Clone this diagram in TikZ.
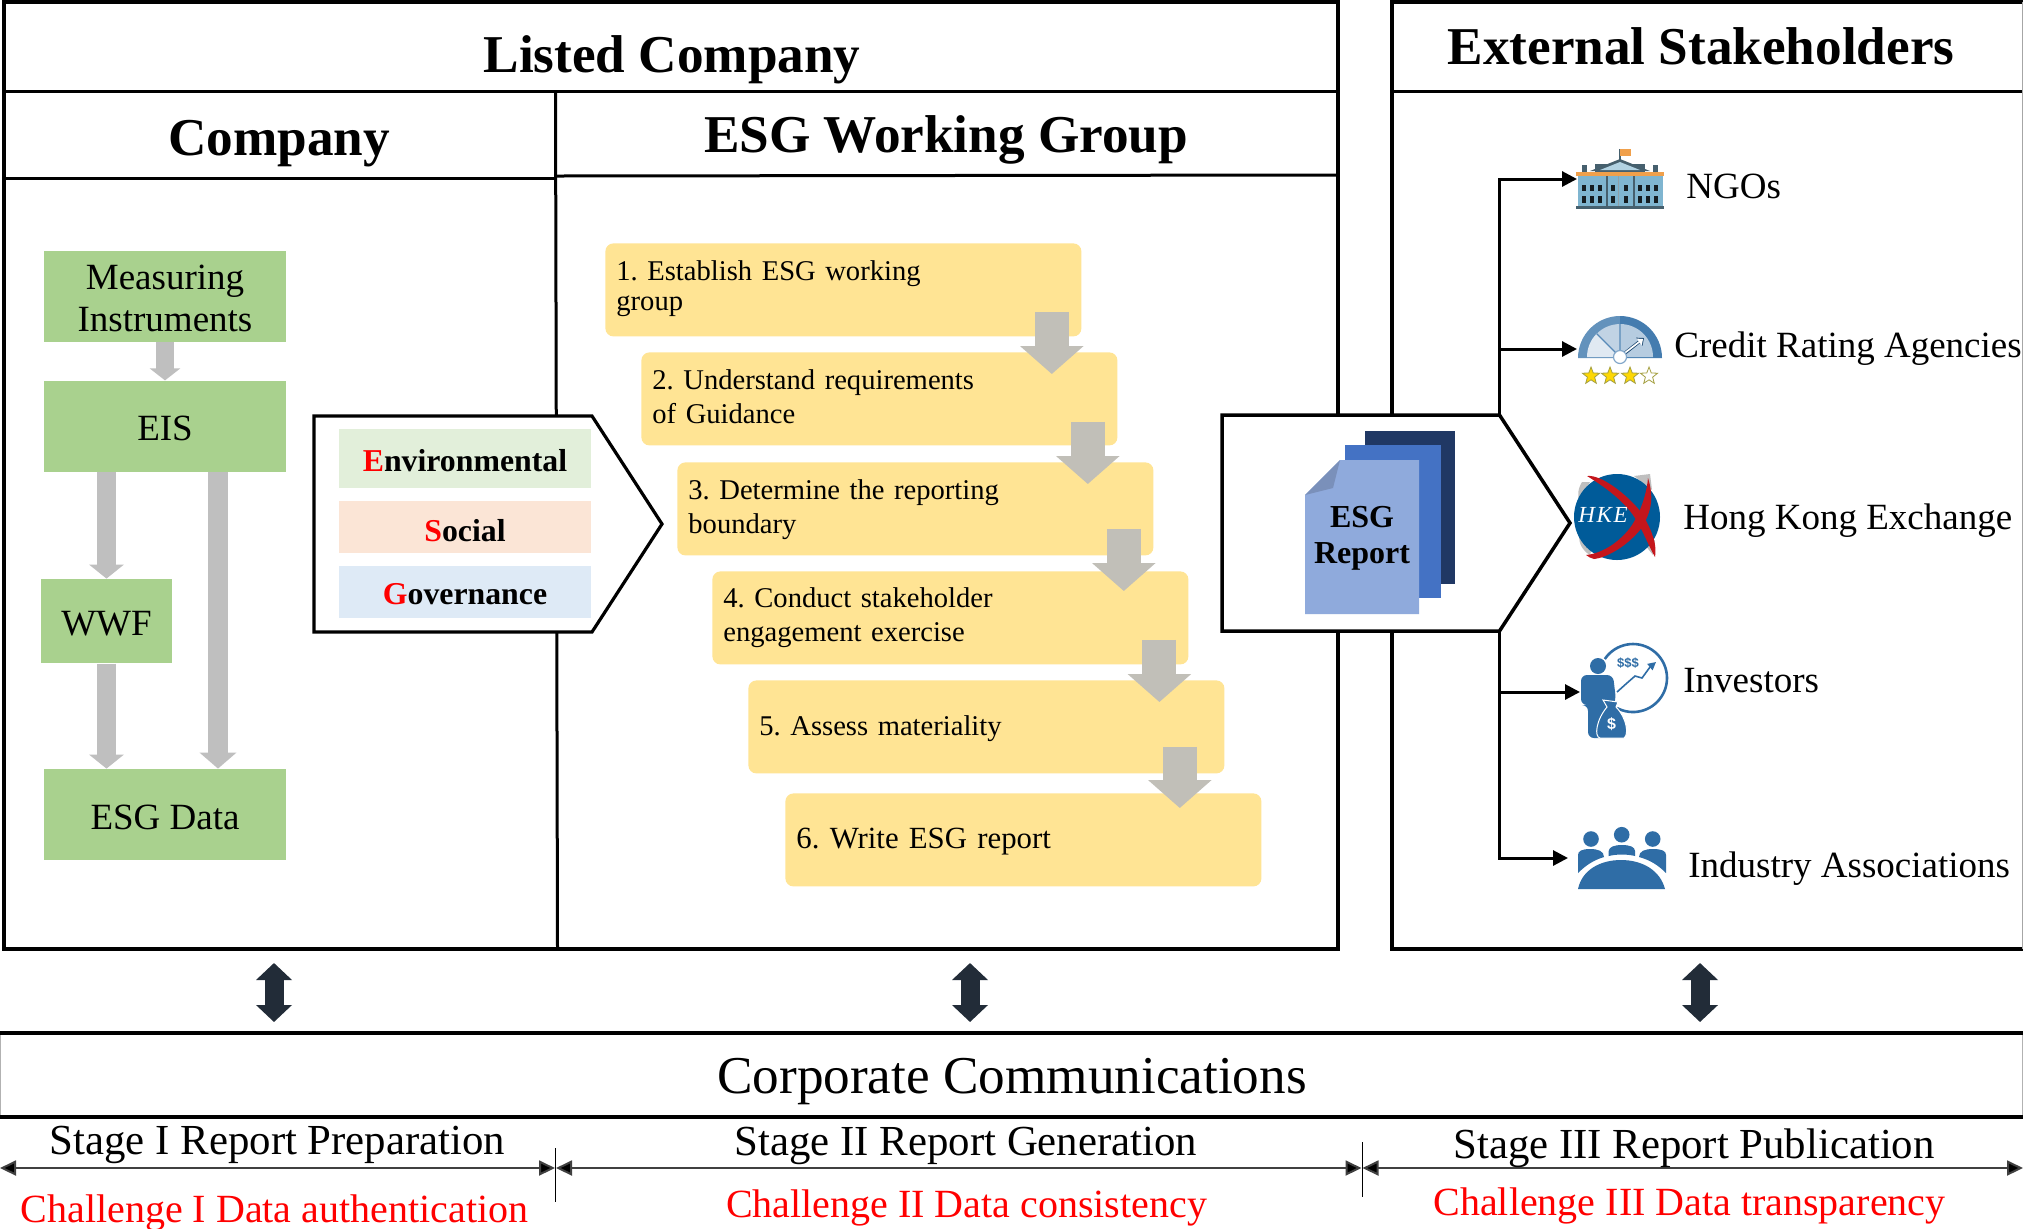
\documentclass[tikz,border=0pt]{standalone}
\usepackage{fontspec}
\setmainfont{Liberation Serif}
\newfontfamily\iconsans{Liberation Sans}
\usetikzlibrary{arrows.meta,calc}
\definecolor{boxgreen}{HTML}{A9D18E}
\definecolor{boxyellow}{HTML}{FFE494}
\definecolor{envfill}{HTML}{E2EFDA}
\definecolor{socfill}{HTML}{FBE5D6}
\definecolor{govfill}{HTML}{DEEAF6}
\definecolor{arrgray}{HTML}{BFBFBF}
\definecolor{yarrgray}{HTML}{C1BFB8}
\definecolor{darknavy}{HTML}{222C38}
\definecolor{docA}{HTML}{203864}
\definecolor{docB}{HTML}{4472C4}
\definecolor{docC}{HTML}{8FAADC}
\definecolor{docF}{HTML}{7A90BA}
\definecolor{iconblue}{HTML}{2F6DA6}
\definecolor{hkblue}{HTML}{005B99}
\definecolor{hkred}{HTML}{C4161C}
\definecolor{bldg}{HTML}{7FB5D0}
\definecolor{bldgd}{HTML}{46606E}
\definecolor{bldgo}{HTML}{F0A04B}
\newcommand\TS[1]{\rule{0pt}{#1}}
\newcommand\BS[1]{\rule[-#1]{0pt}{#1}}
\tikzset{
  txt/.style={inner sep=0pt,anchor=base},
  txtw/.style={inner sep=0pt,anchor=base west},
  heading/.style={txt,font=\fontsize{26.6}{30}\selectfont\bfseries},
  lbl/.style={txtw,font=\fontsize{18.5}{22}\selectfont},
  stagelbl/.style={txt,font=\fontsize{21.4}{24}\selectfont},
  challenge/.style={txt,text=red,font=\fontsize{20}{24}\selectfont},
  greenbox/.style={fill=boxgreen,inner sep=0pt,minimum width=121pt,minimum height=45.5pt,font=\fontsize{18.5}{21}\selectfont,align=center},
  esgbox/.style={inner sep=0pt,minimum width=126pt,font=\fontsize{15.9}{18}\selectfont\bfseries},
  yellowbox/.style={fill=boxyellow,rounded corners=4pt,inner xsep=5.5pt,inner ysep=0pt,text width=227pt,minimum height=46.5pt,align=left,font=\frenchspacing\fontsize{14.3}{17}\selectfont},
  thickline/.style={line width=2pt},
  innerline/.style={line width=1.5pt},
  penta/.style={draw=black,fill=white,line width=1.6pt,line join=miter},
  garrowS/.style={draw=arrgray,line width=9pt,-{Triangle[length=6pt,width=15pt]}},
  garrowM/.style={draw=arrgray,line width=9.5pt,-{Triangle[length=7pt,width=17pt]}},
  garrowL/.style={draw=arrgray,line width=10pt,-{Triangle[length=8pt,width=18pt]}},
  yarrow/.style={draw=yarrgray,line width=17pt,-{Triangle[length=14pt,width=31pt]}},
  treearrow/.style={draw=black,line width=1.5pt,-{Triangle[length=7.5pt,width=7.5pt]}},
  dblarrow/.style={draw=darknavy,line width=9.5pt,{Triangle[length=8.5pt,width=17.5pt]}-{Triangle[length=8.5pt,width=17.5pt]}},
  dimarrow/.style={draw=black!75,line width=1pt,{Triangle[length=8pt,width=7.5pt,fill=black]}-{Triangle[length=8pt,width=7.5pt,fill=black]}},
  tick/.style={draw=black,line width=.5pt},
}
\begin{document}
\begin{tikzpicture}[x=0.5pt,y=-0.5pt]
\fill[white] (0,0) rectangle (2023,1228);
\useasboundingbox (0,0) rectangle (2023,1228);

% frames
\draw[thickline] (4,2) rectangle (1338,949);
\draw[innerline] (4,91) -- (1338,91);
\draw[innerline] (4,178) -- (556,178);
\draw[innerline] (556,176) -- (1338,175);
\draw[innerline] (555.5,91) -- (557.5,949);
\draw[thickline] (2023,2) -- (1392,2) -- (1392,949) -- (2023,949);
\draw[innerline] (1392,91) -- (2023,91);
\draw[gray!70,line width=.5pt] (2022,2) -- (2022,949);

% headings
\node[heading] (hlisted) at (672,72) {Listed Company};
\node[heading] (hcompany) at (279,155) {Company};
\node[heading] (hesg) at (946,152) {ESG Working Group};
\node[heading] (hext) at (1701,64) {External Stakeholders};

% green boxes
\node[greenbox] (meas) at (165,296.3) {\TS{14pt}Measuring\\Instruments\BS{.25pt}};
\node[greenbox,text height=14pt,text depth=0pt] (eis) at (165,426.3) {EIS};
\node[greenbox,minimum width=65.5pt,minimum height=42.2pt,text height=14.5pt,text depth=0pt] (wwf) at (106.5,621.2) {WWF};
\node[greenbox,text height=14.5pt,text depth=0pt] (data) at (165,814.5) {ESG Data};
\draw[garrowS] (meas.south) -- (eis.north);
\draw[garrowM] (wwf.north |- eis.south) -- (wwf.north);
\draw[garrowM] (wwf.south) -- (wwf.south |- data.north);
\draw[garrowL] ([xshift=26.5pt]eis.south) -- ([xshift=26.5pt]data.north);

% left pentagon
\draw[penta] (314,416) -- (592,416) -- (662,524) -- (592,632) -- (314,632) -- cycle;
\node[esgbox,fill=envfill,minimum height=29.5pt,text height=12.5pt,text depth=0pt] (env) at (465,458.5) {\textcolor{red}{E}nvironmental};
\node[esgbox,fill=socfill,minimum height=26pt,text height=14pt,text depth=0pt] (soc) at (465,527) {\textcolor{red}{S}ocial};
\node[esgbox,fill=govfill,minimum height=26pt,text height=12pt,text depth=0pt] (gov) at (465,592) {\textcolor{red}{G}overnance};

% yellow steps
\node[yellowbox,anchor=north west] (y1) at (605,243) {\TS{12pt}1. Establish ESG working\\[-2pt]group\BS{6.5pt}};
\node[yellowbox,anchor=north west] (y2) at (641,352) {\TS{13pt}2. Understand requirements\\of Guidance\BS{5.5pt}};
\node[yellowbox,anchor=north west] (y3) at (677,462) {\TS{13pt}3. Determine the reporting\\boundary\BS{5.5pt}};
\node[yellowbox,anchor=north west] (y4) at (712,571) {\TS{13pt}4. Conduct stakeholder\\engagement exercise\BS{6pt}};
\node[yellowbox,anchor=north west,text height=9pt,text depth=0pt] (y5) at (748,680) {5. Assess materiality};
\node[yellowbox,anchor=north west,text height=8.5pt,text depth=0pt,font=\frenchspacing\fontsize{15.4}{18}\selectfont] (y6) at (785,793) {6. Write ESG report};
\draw[yarrow] ([xshift=-15pt,yshift=12.5pt]y1.south east) -- ([xshift=-33pt,yshift=-11pt]y2.north east);
\draw[yarrow] ([xshift=-15pt,yshift=12pt]y2.south east) -- ([xshift=-33pt,yshift=-11pt]y3.north east);
\draw[yarrow] ([xshift=-15pt,yshift=13.5pt]y3.south east) -- ([xshift=-32.5pt,yshift=-10pt]y4.north east);
\draw[yarrow] ([xshift=-14.7pt,yshift=12.5pt]y4.south east) -- ([xshift=-32.7pt,yshift=-11pt]y5.north east);
\draw[yarrow] ([xshift=-22.5pt,yshift=13.5pt]y5.south east) -- ([xshift=-41pt,yshift=-7.5pt]y6.north east);

% stakeholder connectors
\coordinate (repT) at (1499.5,415);
\coordinate (repB) at (1499.5,631);
\coordinate (ngoport) at (1577,179);
\coordinate (craport) at (1577,349);
\coordinate (invport) at (1580,692);
\coordinate (indport) at (1568,858);
\draw[treearrow] (repT) |- (ngoport);
\draw[treearrow] (repT) |- (craport);
\draw[treearrow] (repB) |- (invport);
\draw[treearrow] (repB) |- (indport);

% report pentagon
\draw[penta,line width=1.75pt] (1222,415) -- (repT) -- (1570,523) -- (repB) -- (1222,631) -- cycle;
\fill[docA] (1365,431) rectangle (1455,584);
\fill[docB] (1345,445) rectangle (1441,598);
\fill[docC] (1305,495) -- (1340,460) -- (1419,460) -- (1419,614) -- (1305,614) -- cycle;
\fill[docF] (1305,495) -- (1340,460) -- (1333,488) -- cycle;
\node[inner sep=0pt,align=center,font=\fontsize{16}{18}\selectfont\bfseries] (rep) at (1362,537) {\TS{12pt}ESG\\Report\BS{4pt}};

% stakeholder labels
\node[lbl] (lngo) at (1686,198) {NGOs};
\node[lbl] (lcra) at (1674,357) {Credit Rating Agencies};
\node[lbl] (lhk) at (1683,529) {Hong Kong Exchange};
\node[lbl] (linv) at (1683,692) {Investors};
\node[lbl] (lind) at (1688,877) {Industry Associations};

% icon: NGO building
\fill[bldgd] (1619.4,149) rectangle (1620.6,160);
\fill[bldgo] (1620,149) rectangle (1631,156);
\fill[bldgd] (1595,164) rectangle (1645,172);
\fill[bldgd] (1582,165) rectangle (1587,172);
\fill[bldgd] (1653,165) rectangle (1658,172);
\fill[bldgd] (1620,159) -- (1650,171) -- (1590,171) -- cycle;
\fill[bldg!60] (1620,162) -- (1640,170) -- (1600,170) -- cycle;
\fill[bldg] (1578,176) rectangle (1663,206);
\fill[bldgo] (1576,172) rectangle (1664,176);
\fill[bldgd] (1576,206) rectangle (1664,209);
\foreach \cx in {1606,1633}{\fill[bldgd] (\cx,176) rectangle (\cx+1.5,206);}
\fill[bldgd!60] (1618,176) rectangle (1619,206);
\foreach \wy in {188,199.5}{\foreach \wx in {1584,1592,1600,1613,1626,1640,1648,1656}{\fill[black!70!bldgd] (\wx-2.4,\wy-3.2) rectangle (\wx+2.4,\wy+3.2);}}

% icon: gauge
\fill[iconblue!75] (1578,358) arc[start angle=180,end angle=270,radius=42] -- (1620,358) -- cycle;
\fill[iconblue!90] (1620,316) arc[start angle=270,end angle=360,radius=42] -- (1620,358) -- cycle;
\fill[iconblue!15] (1587,357) arc[start angle=180,end angle=225,radius=33] -- (1620,357) -- cycle;
\fill[iconblue!30] (1596.7,333.7) arc[start angle=225,end angle=270,radius=33] -- (1620,357) -- cycle;
\fill[iconblue!35] (1620,324) arc[start angle=270,end angle=360,radius=33] -- (1620,357) -- cycle;
\draw[iconblue!80,line width=.7pt] (1620,357) -- (1620,324) (1620,357) -- (1596.7,333.7);
\draw[iconblue!70!black,line width=1.6pt,-{Triangle[length=3pt,width=5pt]}] (1620,357) -- (1644,338);
\draw[white,line width=.8pt,-{Triangle[length=2.4pt,width=4pt]}] (1622,355) -- (1643,339);
\filldraw[fill=white,draw=iconblue!60,line width=.6pt] (1620,357) circle[radius=6.5];
\foreach \sx/\sc in {1591/yellow!75!orange,1610/yellow!75!orange,1630/yellow!75!orange,1649/white}{
  \filldraw[fill=\sc,draw=yellow!60!black,line width=.4pt] (\sx,376) +(270:9) -- +(306:3.8) -- +(342:9) -- +(18:3.8) -- +(54:9) -- +(90:3.8) -- +(126:9) -- +(162:3.8) -- +(198:9) -- +(234:3.8) -- cycle;}

% icon: exchange globe
\fill[gray!50] (1582,482) .. controls (1577,490) and (1578,497) .. (1579,500) -- (1590,482) -- cycle;
\fill[gray!50] (1634,476) -- (1650,474) -- (1652,490) -- cycle;
\fill[gray!50] (1579,535) .. controls (1579,545) and (1583,551) .. (1590,555) -- (1592,548) -- cycle;
\fill[gray!50] (1645,545) -- (1655,540) -- (1653,555) -- cycle;
\fill[hkblue] (1617,517) circle[radius=43];
\fill[hkred] (1587,476) .. controls (1603,474) and (1633,500) .. (1643,515) .. controls (1653,533) and (1657,545) .. (1655,557) .. controls (1648,545) and (1643,530) .. (1633,515) .. controls (1620,497) and (1600,484) .. cycle;
\fill[hkred] (1648,478) .. controls (1655,500) and (1650,515) .. (1640,530) .. controls (1625,548) and (1605,558) .. (1594,559) .. controls (1591,558) and (1588,557) .. (1586,555) .. controls (1607,553) and (1628,535) .. (1636,518) .. controls (1643,505) and (1647,490) .. cycle;
\node[txt,text=white,font=\fontsize{11.5}{13}\selectfont\itshape] (hke) at (1603,522) {H\kern.8pt K\kern.8pt E};

% icon: investor
\fill[iconblue] (1598,666) circle[radius=8];
\draw[iconblue,line width=1.3pt] (1604.8,659) arc[start angle=214,end angle=478,radius=34];
\fill[iconblue,rounded corners=3pt] (1581,705) -- (1581,675) -- (1613,675) -- (1616,700) -- (1606,722) -- (1606,738) -- (1588,738) -- (1588,705) -- cycle;
\draw[iconblue,line width=.8pt,-{Triangle[length=4pt,width=4pt]}] (1617,692) -- (1627,683) -- (1635,676) -- (1642,678) -- (1650,667) -- (1656,662);
\node[txt,text=iconblue,font=\iconsans\fontsize{6.5}{8}\selectfont\bfseries] (dollars) at (1628,667) {\$\$\$};
\fill[iconblue,draw=white,line width=.5pt] (1607,707) .. controls (1596,720) and (1594,737) .. (1600,738) -- (1624,738) .. controls (1629,735) and (1627,718) .. (1616,707) -- (1618,702) -- (1603,700) -- cycle;
\node[txt,text=white,font=\iconsans\fontsize{8}{9}\selectfont\bfseries] (bagd) at (1611.5,729) {\$};

% icon: associations
\foreach \hx/\hy in {1591/839,1621.7/834.7,1652.7/839}{\fill[iconblue] (\hx,\hy) circle[radius=7.8];}
\fill[iconblue] (1578,873) -- (1578,855) .. controls (1578,851) and (1582,849) .. (1590,849) .. controls (1598,849) and (1604,851) .. (1604,857) .. controls (1594,860) and (1586,865) .. cycle;
\fill[iconblue] (1666,873) -- (1666,855) .. controls (1666,851) and (1662,849) .. (1653,849) .. controls (1645,849) and (1639,851) .. (1639,857) .. controls (1650,860) and (1658,865) .. cycle;
\fill[iconblue] (1608.7,856) -- (1608.7,851) .. controls (1609,847) and (1614,845) .. (1622,845) .. controls (1630,845) and (1635,847) .. (1635,851) -- (1635,856) .. controls (1627,854) and (1617,854) .. cycle;
\fill[iconblue] (1578,889) .. controls (1582,870) and (1600,860) .. (1621,860) .. controls (1642,860) and (1660,870) .. (1665,889) -- cycle;

% communications band
\coordinate (a1t) at (274,963); \coordinate (a1b) at (274,1022);
\coordinate (a2t) at (970,963); \coordinate (a2b) at (970,1022);
\coordinate (a3t) at (1700,963); \coordinate (a3b) at (1700,1022);
\draw[dblarrow] (a1t) -- (a1b);
\draw[dblarrow] (a2t) -- (a2b);
\draw[dblarrow] (a3t) -- (a3b);
\draw[gray!60,line width=.5pt] (0.5,1033) rectangle (2022,1117);
\draw[thickline] (0,1033) -- (2023,1033);
\draw[thickline] (0,1117) -- (2023,1117);
\node[txt,font=\fontsize{26.6}{30}\selectfont] (corp) at (1012,1093) {Corporate Communications};

% stages
\coordinate (d0) at (0,1168); \coordinate (d1) at (555,1168);
\coordinate (d1b) at (556,1168); \coordinate (d2) at (1361.5,1168);
\coordinate (d2b) at (1362.5,1168); \coordinate (d3) at (2023,1168);
\draw[tick] (555,1148) -- (555,1202);
\draw[tick] (1362,1142) -- (1362,1197);
\draw[dimarrow] (d0) -- (d1);
\draw[dimarrow] (d1b) -- (d2);
\draw[dimarrow] (d2b) -- (d3);
\node[stagelbl] (s1) at (277.5,1154) {Stage I Report Preparation};
\node[stagelbl] (s2) at (966,1155.5) {Stage II Report Generation};
\node[stagelbl] (s3) at (1694,1158.5) {Stage III Report Publication};
\node[challenge] (c1) at (274.5,1222) {Challenge I Data authentication};
\node[challenge] (c2) at (966.5,1217) {Challenge II Data consistency};
\node[challenge] (c3) at (1689.5,1215) {Challenge III Data transparency};
\end{tikzpicture}
\end{document}
